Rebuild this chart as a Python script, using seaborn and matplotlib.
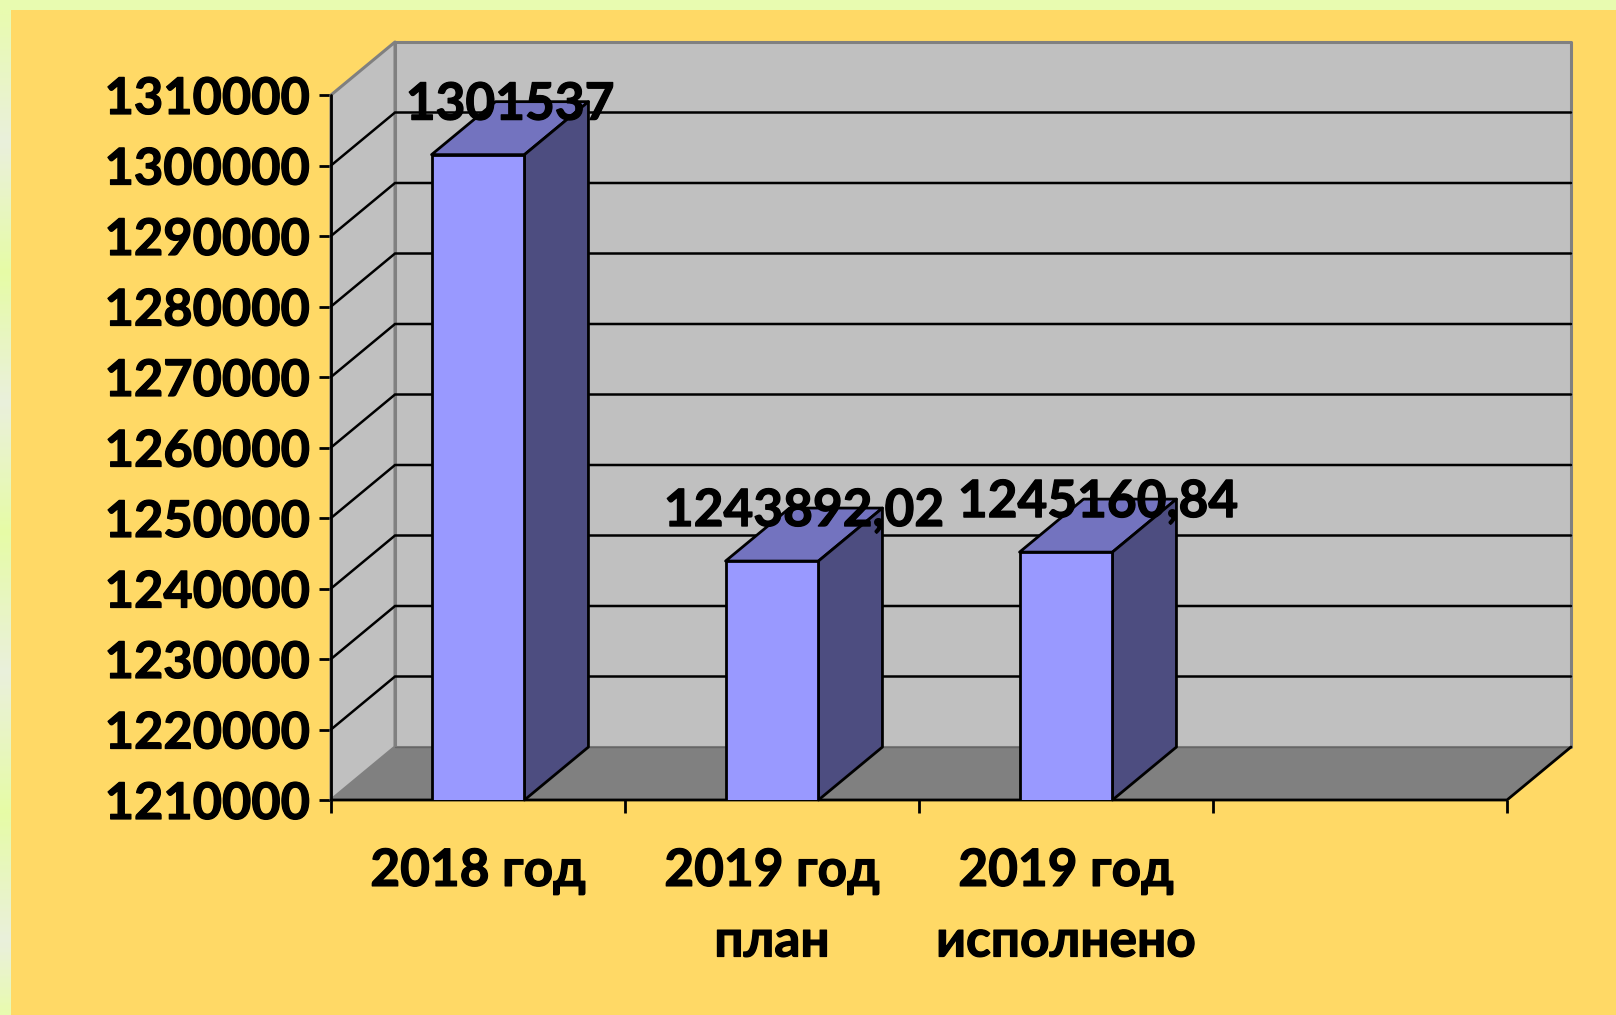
import numpy as np
import pandas as pd
import seaborn as sns
import matplotlib.pyplot as plt
import matplotlib.patheffects as pe
from matplotlib.colors import LinearSegmentedColormap
from matplotlib.patches import Polygon, Rectangle

# values
categories = ['2018 год', '2019 год\nплан', '2019 год\nисполнено', ' ']
values = [1301537, 1243892.02, 1245160.84, np.nan]
value_labels = ['1301537', '1243892,02', '1245160,84', '']
y_ticks = [1210000, 1220000, 1230000, 1240000, 1250000, 1260000, 1270000, 1280000, 1290000, 1300000, 1310000]

W, H = 1616, 1015
BG_GREEN = '#E8FBB0'
BG_PALE = '#EAF0DC'
BG_YELLOW = '#FFD966'
WALL = '#C0C0C0'
FLOOR = '#808080'
EDGE_GRAY = '#808080'
BAR_FRONT = '#9999FF'
BAR_TOP = '#7373BF'
BAR_SIDE = '#4D4D80'
FONT_SIZE = 37
BOLDER = [pe.withStroke(linewidth=0.9, foreground='black')]

sns.set_theme(style='white')
plt.rcParams['font.family'] = ['Lato', 'DejaVu Sans']

df = pd.DataFrame({'cat': categories, 'val': values})

fig = plt.figure(figsize=(W / 100, H / 100), dpi=100, facecolor=BG_GREEN)

# left edge strip has repeating pale bands
band_stops = [0, 0.13, 0.26, 0.39, 0.52, 0.66, 0.80, 0.93, 1]
band_cols = [BG_GREEN, BG_PALE, '#E6FCA6', BG_PALE, '#E6FCA6', BG_PALE, '#E6FCA6', BG_PALE, BG_GREEN]
strip = fig.add_axes([0, 0, 11 / W, 1 - 10 / H])
strip.imshow(np.linspace(0, 1, 400).reshape(-1, 1), aspect='auto',
             cmap=LinearSegmentedColormap.from_list('strip', list(zip(band_stops, band_cols))))
strip.axis('off')

fig.patches.append(Rectangle((11 / W, 0), 1 - 11 / W, 1 - 10 / H, transform=fig.transFigure,
                             facecolor=BG_YELLOW, edgecolor='none', zorder=-1))

# front plane of the chart box
x0_px, x1_px, y0_px, y1_px = 331, 1507, 800, 95
ax = fig.add_axes([x0_px / W, 1 - y0_px / H, (x1_px - x0_px) / W, (y0_px - y1_px) / H])
ax.patch.set_alpha(0)

sns.barplot(data=df, x='cat', y='val', order=categories, color=BAR_FRONT, saturation=1,
            width=0.316, edgecolor='black', linewidth=2, ax=ax, zorder=5)

ax.set_xlim(-0.5, 3.5)
ax.set_ylim(y_ticks[0], y_ticks[-1])
ax.set_xlabel('')
ax.set_ylabel('')

# depth of the fake 3d box, in data units
dx = 64 / ((x1_px - x0_px) / 4)
dy = 53 / ((y0_px - y1_px) / (y_ticks[-1] - y_ticks[0]))
xl, xr = ax.get_xlim()
yb, yt = ax.get_ylim()


def face(pts, fc, ec='none', lw=0, z=1):
    ax.add_patch(Polygon(pts, closed=True, facecolor=fc, edgecolor=ec, linewidth=lw,
                         zorder=z, clip_on=False, joinstyle='round'))


# back wall, side wall, floor
face([(xl + dx, yb + dy), (xr + dx, yb + dy), (xr + dx, yt + dy), (xl + dx, yt + dy)], WALL, EDGE_GRAY, 2.2, 1)
face([(xl, yb), (xl + dx, yb + dy), (xl + dx, yt + dy), (xl, yt)], WALL, EDGE_GRAY, 2.2, 1)
face([(xl, yb), (xr, yb), (xr + dx, yb + dy), (xl + dx, yb + dy)], FLOOR, 'none', 0, 2)
ax.plot([xl + dx, xr + dx], [yb + dy, yb + dy], color='#666666', lw=1, zorder=2.5, clip_on=False)

# grid lines on back and side wall
for t in y_ticks[1:-1]:
    ax.plot([xl, xl + dx, xr + dx], [t, t + dy, t + dy], color='black', lw=1.8,
            zorder=3, clip_on=False, solid_joinstyle='miter')

# box edges in front of the walls
ax.plot([xl, xl], [yb, yt], color='black', lw=2, zorder=3, clip_on=False)
ax.plot([xl, xr, xr + dx], [yb, yb, yb + dy], color='black', lw=2, zorder=4, clip_on=False)

# top and side faces of the bars, taken from the seaborn bars
for bar, v, txt in zip(ax.patches, values, value_labels):
    if np.isnan(v):
        continue
    left = bar.get_x()
    right = left + bar.get_width()
    face([(left, v), (right, v), (right + dx, v + dy), (left + dx, v + dy)], BAR_TOP, 'black', 2, 4)
    face([(right, yb), (right + dx, yb + dy), (right + dx, v + dy), (right, v)], BAR_SIDE, 'black', 2, 4)
    ax.annotate(txt, ((left + right) / 2 + dx / 2, v + dy), xytext=(0, -2.5), textcoords='offset points',
                ha='center', va='center', fontsize=FONT_SIZE, fontweight='bold', color='black',
                zorder=8, annotation_clip=False, path_effects=BOLDER)

for s in ax.spines.values():
    s.set_visible(False)

# ticks at category edges, labels between them
ax.set_xticks(np.arange(-0.5, 4, 1))
ax.set_xticklabels([])
ax.set_xticks(range(len(categories)), labels=categories, minor=True)
ax.tick_params(axis='x', which='major', length=9, width=2, color='black', bottom=True)
ax.tick_params(axis='x', which='minor', length=0, pad=34.5, labelsize=FONT_SIZE)
ax.set_yticks(y_ticks)
ax.set_yticklabels([str(t) for t in y_ticks])
ax.tick_params(axis='y', length=9, width=2, color='black', left=True, pad=6.5, labelsize=36.4)
for lab in ax.get_xticklabels(minor=True) + ax.get_yticklabels():
    lab.set_fontweight('bold')
    lab.set_color('black')
    lab.set_linespacing(1.62)
    lab.set_path_effects(BOLDER)

fig.savefig('out.png', dpi=100, facecolor=fig.get_facecolor())
